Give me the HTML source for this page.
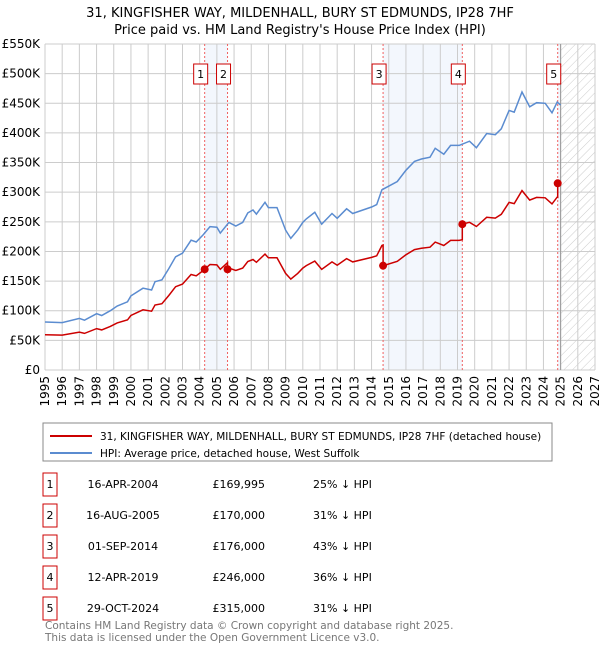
<!DOCTYPE html>
<html><head><meta charset="utf-8"><style>
body{margin:0;background:#fff;font-family:"Liberation Sans","DejaVu Sans",sans-serif;}
svg text{font-family:"DejaVu Sans","Liberation Sans",sans-serif;}
</style></head><body>
<svg id="chart" width="600" height="650" viewBox="0 0 600 650" xmlns="http://www.w3.org/2000/svg">
<defs>
<pattern id="hatch" width="6" height="6" patternUnits="userSpaceOnUse" patternTransform="rotate(45)">
<line x1="0" y1="0" x2="0" y2="6" stroke="#ccc" stroke-width="1"/></pattern>
</defs>
<text x="300" y="17" text-anchor="middle" font-size="13" fill="#000">31, KINGFISHER WAY, MILDENHALL, BURY ST EDMUNDS, IP28 7HF</text>
<text x="300" y="34" text-anchor="middle" font-size="13" fill="#000">Price paid vs. HM Land Registry's House Price Index (HPI)</text>
<g id="bg"></g><g id="grid"></g><g id="marks"></g><g id="axes"></g>
<rect x="43" y="423" width="509" height="38" fill="#fff" stroke="#888"/>
<line x1="50" y1="436" x2="92" y2="436" stroke="#cc0000" stroke-width="2"/>
<text x="100" y="440" font-size="10.5">31, KINGFISHER WAY, MILDENHALL, BURY ST EDMUNDS, IP28 7HF (detached house)</text>
<line x1="50" y1="453" x2="92" y2="453" stroke="#5b8cd0" stroke-width="2"/>
<text x="100" y="457" font-size="10.5">HPI: Average price, detached house, West Suffolk</text>
<g id="table"></g>
<text x="45" y="629" font-size="10.5" fill="#777">Contains HM Land Registry data © Crown copyright and database right 2025.</text>
<text x="45" y="641" font-size="10.5" fill="#777">This data is licensed under the Open Government Licence v3.0.</text>
</svg>
<script>
const hpiYears=[1995,1996,1997,1997.3,1998,1998.3,1998.8,1999.2,1999.8,2000,2000.7,2001.2,2001.4,2001.8,2002.2,2002.6,2003,2003.5,2003.8,2004.2,2004.6,2005,2005.2,2005.7,2006.1,2006.5,2006.8,2007.1,2007.3,2007.8,2008,2008.5,2009,2009.3,2009.7,2010,2010.2,2010.7,2011.1,2011.7,2012,2012.55,2012.9,2014,2014.3,2014.6,2015.5,2016,2016.5,2016.9,2017.4,2017.7,2018.2,2018.6,2019.1,2019.7,2020.1,2020.7,2021.2,2021.55,2022,2022.3,2022.75,2023.2,2023.6,2024.1,2024.5,2024.8,2025];
const hpiValues=[81,80,87,84,95,92,100,108,115,125,138,135,149,152,171,191,197,219,216,228,242,241,231,249,243,249,265,270,263,283,274,274,236,222,236,249,255,266,246,264,256,272,264,275,279,304,318,337,352,356,359,374,364,379,379,386,375,399,397,407,438,435,469,444,451,450,434,452,447];
const saleLabels=["1","2","3","4","5"];
const saleDates=[2004.29,2005.62,2014.67,2019.28,2024.83];
const salePrices=[169.995,170,176,246,315];
const saleDateText=["16-APR-2004","16-AUG-2005","01-SEP-2014","12-APR-2019","29-OCT-2024"];
const salePriceText=["£169,995","£170,000","£176,000","£246,000","£315,000"];
const salePctText=["25% ↓ HPI","31% ↓ HPI","43% ↓ HPI","36% ↓ HPI","31% ↓ HPI"];
const yTicks=[0,50,100,150,200,250,300,350,400,450,500,550];
const yTickLabels=["£0","£50K","£100K","£150K","£200K","£250K","£300K","£350K","£400K","£450K","£500K","£550K"];
const xTicks=[1995,1996,1997,1998,1999,2000,2001,2002,2003,2004,2005,2006,2007,2008,2009,2010,2011,2012,2013,2014,2015,2016,2017,2018,2019,2020,2021,2022,2023,2024,2025,2026,2027];

const NS="http://www.w3.org/2000/svg";
const X0=45,X1=595,Y0=370,Y1=44;
const xs=t=>X0+(t-1995)/(2027-1995)*(X1-X0);
const ys=v=>Y0-v/550*(Y0-Y1);
function mk(parent,tag,attrs){const e=document.createElementNS(NS,tag);for(const k in attrs)e.setAttribute(k,attrs[k]);document.getElementById(parent).appendChild(e);return e;}
function hpiAt(t){for(let i=1;i<hpiYears.length;i++){if(t<=hpiYears[i]){const f=(t-hpiYears[i-1])/(hpiYears[i]-hpiYears[i-1]);return hpiValues[i-1]+f*(hpiValues[i]-hpiValues[i-1]);}}return hpiValues[hpiValues.length-1];}
let e;
e=mk('bg','rect',{x:xs(saleDates[0]),y:Y1,width:xs(saleDates[1])-xs(saleDates[0]),height:Y0-Y1,fill:'#eef3fc',opacity:0.7});


e=mk('bg','rect',{x:xs(saleDates[2]),y:Y1,width:xs(saleDates[3])-xs(saleDates[2]),height:Y0-Y1,fill:'#eef3fc',opacity:0.7});


e=mk('bg','rect',{x:xs(saleDates[4]),y:Y1,width:xs(2025)-xs(saleDates[4]),height:Y0-Y1,fill:'#eef3fc',opacity:0.7});


e=mk('bg','rect',{x:xs(2025),y:Y1,width:X1-xs(2025),height:Y0-Y1,fill:'url(#hatch)'});


yTicks.forEach((v,i)=>{
 e=mk('grid','line',{x1:X0,x2:X1,y1:ys(v),y2:ys(v),stroke:'#ccc','stroke-width':1});
 
 
 e=mk('axes','text',{x:40,y:ys(v)+4,'text-anchor':'end','font-size':12,fill:'#000'});
 e.textContent=yTickLabels[i];
 
 
});
xTicks.forEach(t=>{
 e=mk('grid','line',{x1:xs(t),x2:xs(t),y1:Y1,y2:Y0,stroke:'#ccc','stroke-width':1});
 
 
 e=mk('axes','text',{x:0,y:0,'text-anchor':'end','font-size':12,fill:'#000',transform:`translate(${xs(t)+4},376) rotate(-90)`});
 e.textContent=t;
 
 
});
e=mk('grid','line',{x1:xs(2025),x2:xs(2025),y1:Y1,y2:Y0,stroke:'#999','stroke-width':1});


saleDates.forEach((d,i)=>{
 e=mk('marks','line',{x1:xs(d),x2:xs(d),y1:Y1,y2:Y0,stroke:'#f06060','stroke-width':1,'stroke-dasharray':'2,2'});
 
 
});
let p=hpiYears.map((t,i)=>`${xs(t).toFixed(1)},${ys(hpiValues[i]).toFixed(1)}`).join(' ');
e=mk('marks','polyline',{points:p,fill:'none',stroke:'#5b8cd0','stroke-width':1.5});


const ratios=saleDates.map((d,i)=>salePrices[i]/hpiAt(d));
const ts=[];hpiYears.forEach(t=>ts.push(t));saleDates.forEach(d=>{ts.push(d-0.001);ts.push(d);});ts.sort((a,b)=>a-b);
const ratioAt=t=>{let r=ratios[0];saleDates.forEach((d,i)=>{if(t>=d)r=ratios[i];});return r;};
p=ts.map(t=>`${xs(t).toFixed(1)},${ys(hpiAt(t)*ratioAt(t)).toFixed(1)}`).join(' ');
e=mk('marks','polyline',{points:p,fill:'none',stroke:'#cc0000','stroke-width':1.5});


saleDates.forEach((d,i)=>{
 e=mk('marks','circle',{cx:xs(d),cy:ys(salePrices[i]),r:4,fill:'#cc0000'});
 
 
 e=mk('marks','rect',{x:xs(d)-11,y:64,width:14,height:20,fill:'#fff',stroke:'#cc0000'});
 
 
 e=mk('marks','text',{x:xs(d)-4,y:78,'text-anchor':'middle','font-size':11});
 e.textContent=saleLabels[i];
 
 
 const ry=483+i*31;
 e=mk('table','rect',{x:43,y:ry-10,width:14,height:23,fill:'#fff',stroke:'#cc0000'});
 
 
 e=mk('table','text',{x:50,y:ry+5,'text-anchor':'middle','font-size':11});
 e.textContent=saleLabels[i];
 
 
 e=mk('table','text',{x:123,y:ry+5,'text-anchor':'middle','font-size':11});
 e.textContent=saleDateText[i];
 
 
 e=mk('table','text',{x:265,y:ry+5,'text-anchor':'end','font-size':11});
 e.textContent=salePriceText[i];
 
 
 e=mk('table','text',{x:313,y:ry+5,'font-size':11});
 e.textContent=salePctText[i];
 
 
});
</script>
</body></html>
